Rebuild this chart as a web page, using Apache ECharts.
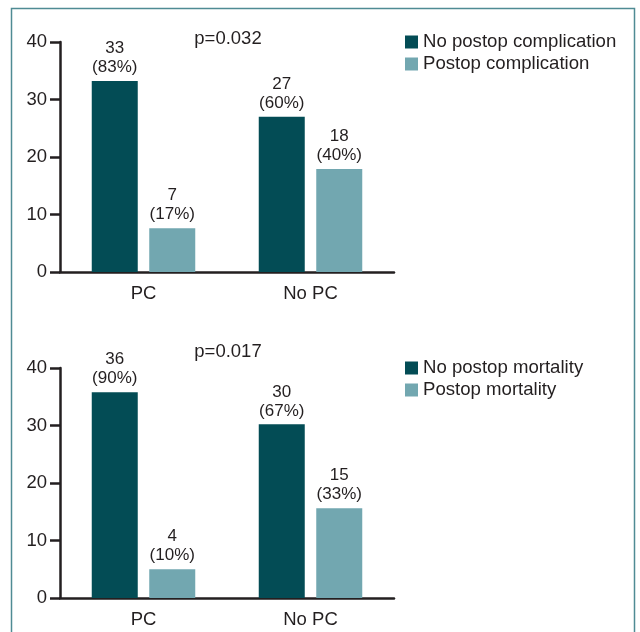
<!DOCTYPE html>
<html>
<head>
<meta charset="utf-8">
<script src="https://cdn.jsdelivr.net/npm/echarts@6/dist/echarts.min.js"></script>
<style>
html,body{margin:0;padding:0;background:#fff;}
#c{width:640px;height:632px;}
</style>
</head>
<body>
<div id="c"></div>
<script>
var categories = ['PC', 'No PC'];
var yTicks = [0, 10, 20, 30, 40];

// Top panel: complications
var compNames = ['No postop complication', 'Postop complication'];
var compNoHeights = [33.2, 27.0];
var compYesHeights = [7.6, 17.9];
var compNoCounts = [33, 27];
var compYesCounts = [7, 18];
var compNoPct = ['83%', '60%'];
var compYesPct = ['17%', '40%'];
var compP = 'p=0.032';

// Bottom panel: mortality
var mortNames = ['No postop mortality', 'Postop mortality'];
var mortNoHeights = [35.8, 30.2];
var mortYesHeights = [5.0, 15.6];
var mortNoCounts = [36, 30];
var mortYesCounts = [4, 15];
var mortNoPct = ['90%', '67%'];
var mortYesPct = ['10%', '33%'];
var mortP = 'p=0.017';

var DARK = '#034c55', LIGHT = '#72a7b0', INK = '#231f20';
var FONT = 'Liberation Sans, Arial, sans-serif';

function labelFor(counts, pcts) {
  return {
    show: true, position: 'top', distance: 4,
    fontSize: 17, lineHeight: 19, color: INK, fontFamily: FONT,
    formatter: function (p) { return counts[p.dataIndex] + '\n(' + pcts[p.dataIndex] + ')'; }
  };
}

function xAxis(gi) {
  return {
    type: 'category', gridIndex: gi, data: categories,
    axisLine: { lineStyle: { color: INK, width: 2.5 } },
    axisTick: { alignWithLabel: true, length: 8, lineStyle: { color: INK, width: 2.5 } },
    axisLabel: { fontSize: 18.5, color: INK, margin: 12, fontFamily: FONT }
  };
}
function yAxis(gi) {
  return {
    type: 'value', gridIndex: gi, min: yTicks[0], max: yTicks[yTicks.length - 1], interval: 10,
    splitLine: { show: false },
    axisLine: { show: true, lineStyle: { color: INK, width: 2.5 } },
    axisTick: { show: true, length: 10, lineStyle: { color: INK, width: 2.5 } },
    axisLabel: { fontSize: 18.5, color: INK, margin: 13, fontFamily: FONT }
  };
}
function legend(names, top) {
  return {
    data: names, left: 405, top: top, orient: 'vertical', padding: 0,
    itemWidth: 13, itemHeight: 13, itemGap: 0, icon: 'rect',
    textStyle: { fontSize: 18.6, color: INK, lineHeight: 22, fontFamily: FONT }
  };
}
function bar(name, gi, data, counts, pcts, color) {
  return {
    type: 'bar', name: name, xAxisIndex: gi, yAxisIndex: gi, data: data,
    barWidth: 46, barGap: '25%', itemStyle: { color: color },
    label: labelFor(counts, pcts)
  };
}

var chart = echarts.init(document.getElementById('c'), null, { renderer: 'canvas' });
chart.setOption({
  animation: false,
  backgroundColor: '#fff',
  textStyle: { fontFamily: FONT },
  grid: [
    { left: 60, top: 42, width: 334, height: 230 },
    { left: 60, top: 368, width: 334, height: 230 }
  ],
  xAxis: [xAxis(0), xAxis(1)],
  yAxis: [yAxis(0), yAxis(1)],
  legend: [legend(compNames, 31), legend(mortNames, 357)],
  series: [
    bar(compNames[0], 0, compNoHeights, compNoCounts, compNoPct, DARK),
    bar(compNames[1], 0, compYesHeights, compYesCounts, compYesPct, LIGHT),
    bar(mortNames[0], 1, mortNoHeights, mortNoCounts, mortNoPct, DARK),
    bar(mortNames[1], 1, mortYesHeights, mortYesCounts, mortYesPct, LIGHT)
  ],
  graphic: [
    { type: 'rect', shape: { x: 11.5, y: 8.5, width: 623, height: 660 },
      style: { fill: 'none', stroke: '#4f8b94', lineWidth: 1.5 }, silent: true },
    { type: 'text', x: 228, y: 39, style: { text: compP, fontSize: 18.5, fill: INK, fontFamily: FONT, textAlign: 'center', textVerticalAlign: 'middle' } },
    { type: 'text', x: 228, y: 352, style: { text: mortP, fontSize: 18.5, fill: INK, fontFamily: FONT, textAlign: 'center', textVerticalAlign: 'middle' } }
  ]
});
</script>
</body>
</html>
